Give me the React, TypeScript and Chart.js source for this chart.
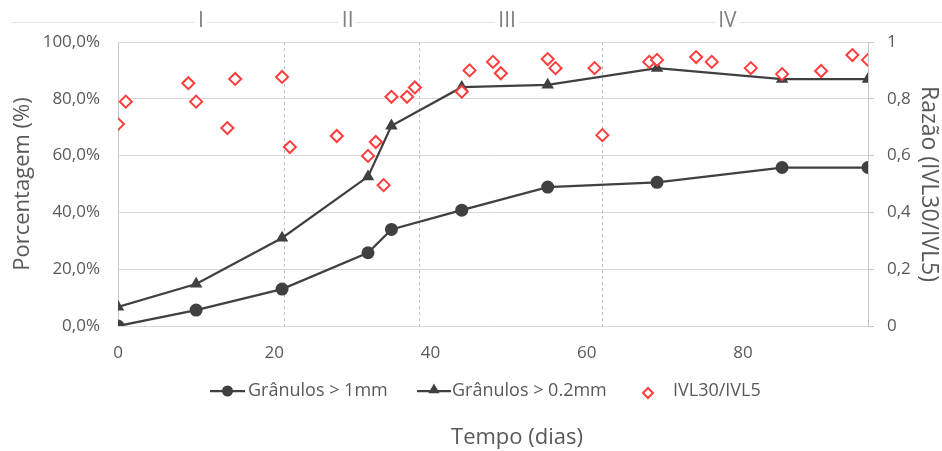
import React, { useEffect, useRef } from 'react';
import { Chart, registerables } from 'chart.js';

Chart.register(...registerables);

// ---- data ----
const days = [0, 10, 21, 32, 35, 44, 55, 69, 85, 96];
const granulos1mm = [0, 5.6, 13, 25.8, 34, 40.8, 48.9, 50.6, 55.8, 55.8];
const granulos02mm = [6.7, 14.8, 31, 52.6, 70.5, 84.1, 84.9, 90.8, 86.9, 86.9];

const ratioDays = [0, 1, 9, 10, 14, 15, 21, 22, 28, 32, 33, 34, 35, 37, 38, 44, 45, 48, 49, 55, 56, 61, 62, 68, 69, 74, 76, 81, 85, 90, 94, 96];
const ratioValues = [0.711, 0.79, 0.855, 0.79, 0.697, 0.87, 0.877, 0.63, 0.669, 0.599, 0.648, 0.496, 0.807, 0.807, 0.84, 0.825, 0.9, 0.93, 0.89, 0.94, 0.908, 0.908, 0.672, 0.93, 0.937, 0.947, 0.93, 0.908, 0.887, 0.898, 0.954, 0.937];

const phaseLabels = ['I', 'II', 'III', 'IV'];
const phaseCenters = [10.6, 29.4, 49.8, 78];
const phaseBoundaries = [21.3, 38.5, 62];

const seriesNames = ['Grânulos > 1mm', 'Grânulos > 0.2mm', 'IVL30/IVL5'];
const xTitle = 'Tempo (dias)';
const yTitle = 'Porcentagem (%)';
const y1Title = 'Razão (IVL30/IVL5)';

const FONT = "'Open Sans', sans-serif";
const TEXT = '#595959';
const DARK = '#404040';
const RED = '#ff3d3d';

function circle(ctx: CanvasRenderingContext2D, x: number, y: number, r: number) {
  ctx.beginPath();
  ctx.arc(x, y, r, 0, Math.PI * 2);
  ctx.fillStyle = DARK;
  ctx.fill();
}
function triangle(ctx: CanvasRenderingContext2D, x: number, y: number, r: number) {
  ctx.beginPath();
  ctx.moveTo(x, y - r);
  ctx.lineTo(x + 0.866 * r, y + 0.5 * r);
  ctx.lineTo(x - 0.866 * r, y + 0.5 * r);
  ctx.closePath();
  ctx.fillStyle = DARK;
  ctx.fill();
}
function diamond(ctx: CanvasRenderingContext2D, x: number, y: number, r: number) {
  ctx.beginPath();
  ctx.moveTo(x - r, y);
  ctx.lineTo(x, y - r);
  ctx.lineTo(x + r, y);
  ctx.lineTo(x, y + r);
  ctx.closePath();
  ctx.fillStyle = '#ffffff';
  ctx.fill();
  ctx.strokeStyle = RED;
  ctx.lineWidth = 2;
  ctx.stroke();
}

const decorPlugin = {
  id: 'decor',
  beforeDatasetsDraw(chart: any) {
    const { ctx, chartArea, scales } = chart;
    const x = scales.x;
    ctx.save();
    ctx.strokeStyle = '#a9bfe0';
    ctx.lineWidth = 1;
    ctx.setLineDash([3, 3]);
    phaseBoundaries.forEach((d) => {
      const px = Math.round(x.getPixelForValue(d)) + 0.5;
      ctx.beginPath();
      ctx.moveTo(px, chartArea.top);
      ctx.lineTo(px, chartArea.bottom);
      ctx.stroke();
    });
    ctx.restore();
  },
  afterDraw(chart: any) {
    const { ctx, scales } = chart;
    const x = scales.x;
    ctx.save();
    // top band line
    ctx.strokeStyle = '#e3e3e3';
    ctx.lineWidth = 1;
    ctx.beginPath();
    ctx.moveTo(12, 22.5);
    ctx.lineTo(942, 22.5);
    ctx.stroke();
    // phase numerals
    ctx.font = `21px ${FONT}`;
    ctx.textAlign = 'center';
    ctx.textBaseline = 'middle';
    phaseLabels.forEach((lab, i) => {
      const px = x.getPixelForValue(phaseCenters[i]);
      const w = ctx.measureText(lab).width;
      ctx.fillStyle = '#ffffff';
      ctx.fillRect(px - w / 2 - 3, 12, w + 6, 20);
      ctx.fillStyle = '#808080';
      ctx.fillText(lab, px, 21);
    });

    // legend
    const ly = 391;
    ctx.font = `18px ${FONT}`;
    ctx.textAlign = 'left';
    ctx.textBaseline = 'middle';
    ctx.strokeStyle = DARK;
    ctx.lineWidth = 2.25;
    // item 1
    ctx.beginPath();
    ctx.moveTo(210, ly);
    ctx.lineTo(245, ly);
    ctx.stroke();
    circle(ctx, 227.5, ly, 5.5);
    ctx.fillStyle = TEXT;
    ctx.fillText(seriesNames[0], 248, ly);
    // item 2
    ctx.strokeStyle = DARK;
    ctx.beginPath();
    ctx.moveTo(417, ly);
    ctx.lineTo(451, ly);
    ctx.stroke();
    triangle(ctx, 434, ly - 1, 6.5);
    ctx.fillStyle = TEXT;
    ctx.fillText(seriesNames[1], 452, ly);
    // item 3
    diamond(ctx, 648, ly + 2, 5);
    ctx.fillStyle = TEXT;
    ctx.fillText(seriesNames[2], 673, ly);

    // x title
    ctx.font = `22px ${FONT}`;
    ctx.textAlign = 'center';
    ctx.fillStyle = TEXT;
    ctx.fillText(xTitle, 517, 438);
    ctx.restore();
  },
};

export default function App() {
  const ref = useRef<HTMLCanvasElement | null>(null);

  useEffect(() => {
    if (!ref.current) return;
    const chart = new Chart(ref.current, {
      type: 'line',
      data: {
        datasets: [
          {
            type: 'scatter',
            label: seriesNames[2],
            data: ratioDays.map((d, i) => ({ x: d, y: ratioValues[i] })),
            yAxisID: 'y1',
            showLine: false,
            pointStyle: 'rectRot',
            pointRadius: 6,
            pointBorderWidth: 2,
            pointBackgroundColor: '#ffffff',
            pointBorderColor: RED,
            order: 0,
          } as any,
          {
            label: seriesNames[0],
            data: days.map((d, i) => ({ x: d, y: granulos1mm[i] })),
            yAxisID: 'y',
            borderColor: DARK,
            borderWidth: 2.25,
            pointStyle: 'circle',
            pointRadius: 6.5,
            pointBackgroundColor: DARK,
            pointBorderColor: DARK,
            pointBorderWidth: 0,
            tension: 0,
            order: 1,
          },
          {
            label: seriesNames[1],
            data: days.map((d, i) => ({ x: d, y: granulos02mm[i] })),
            yAxisID: 'y',
            borderColor: DARK,
            borderWidth: 2.25,
            pointStyle: 'triangle',
            pointRadius: 7.2,
            pointBackgroundColor: DARK,
            pointBorderColor: DARK,
            pointBorderWidth: 0,
            tension: 0,
            order: 2,
          },
        ],
      },
      options: {
        animation: false,
        responsive: true,
        maintainAspectRatio: false,
        layout: { padding: { top: 42, left: 0, right: 0, bottom: 0 } },
        plugins: {
          legend: { display: false },
          tooltip: { enabled: false },
        },
        scales: {
          x: {
            type: 'linear',
            min: 0,
            max: 96,
            ticks: {
              stepSize: 20,
              padding: 17,
              color: TEXT,
              font: { family: FONT, size: 17 },
            },
            afterBuildTicks: (s: any) => {
              s.ticks = s.ticks.filter((t: any) => t.value % 20 === 0);
            },
            afterFit: (s: any) => {
              s.height = 125;
            },
            grid: { display: false, drawTicks: false },
            border: { display: false },
          },
          y: {
            type: 'linear',
            position: 'left',
            min: 0,
            max: 100,
            ticks: {
              stepSize: 20,
              padding: 18,
              color: TEXT,
              font: { family: FONT, size: 17 },
              callback: (v: any) => Number(v).toFixed(1).replace('.', ',') + '%',
            },
            title: {
              display: true,
              text: yTitle,
              color: TEXT,
              font: { family: FONT, size: 22 },
              padding: { top: 10, bottom: 0 },
            },
            afterFit: (s: any) => {
              s.width = 118;
            },
            grid: { color: '#d9d9d9', lineWidth: 1, drawTicks: false },
            border: { display: true, color: '#c8c8c8', width: 1 },
          },
          y1: {
            type: 'linear',
            position: 'right',
            min: 0,
            max: 1,
            ticks: {
              stepSize: 0.2,
              padding: 13,
              color: TEXT,
              font: { family: FONT, size: 17 },
              callback: (v: any) => String(Math.round(Number(v) * 10) / 10).replace('.', ','),
            },
            title: {
              display: true,
              text: y1Title,
              color: TEXT,
              font: { family: FONT, size: 23 },
              padding: { top: 0, bottom: 0 },
            },
            afterFit: (s: any) => {
              s.width = 74;
            },
            grid: { drawOnChartArea: false, drawTicks: true, tickLength: 6, color: '#c8c8c8' },
            border: { display: true, color: '#c8c8c8', width: 1 },
          },
        },
      },
      plugins: [decorPlugin],
    });
    return () => chart.destroy();
  }, []);

  return (
    <div style={{ position: 'fixed', left: 0, top: 0, width: 942, height: 451, background: '#ffffff' }}>
      <canvas ref={ref} />
    </div>
  );
}
